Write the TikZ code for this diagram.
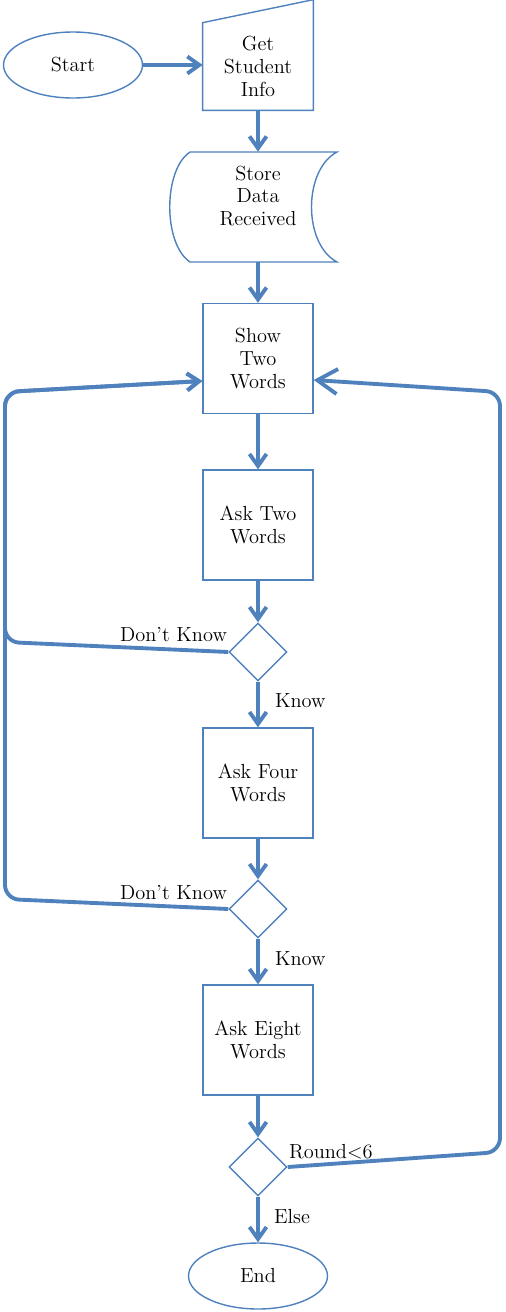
\documentclass[tikz,border=0pt]{standalone}
\usepackage{tikz}
\usetikzlibrary{shapes.geometric,arrows.meta,calc}
\definecolor{flowblue}{RGB}{79,129,189}

\begin{document}
\begin{tikzpicture}[x=0.02cm,y=-0.02cm,
  font=\fontsize{11.6}{13}\selectfont,
  outline/.style={draw=flowblue,line width=0.8pt},
  terminal/.style={outline,ellipse,minimum width=2.78cm,minimum height=1.32cm},
  process/.style={outline,rectangle,minimum width=2.2cm,minimum height=2.2cm,align=center},
  decision/.style={outline,diamond,minimum width=1.16cm,minimum height=1.16cm,inner sep=0pt},
  flow/.style={draw=flowblue,line width=2.2pt,-{Straight Barb[length=2.4mm,width=3.4mm]}},
  backflow/.style={flow,rounded corners=8pt},
  lab/.style={inner sep=1pt}]
\useasboundingbox (0,0) rectangle (506,1312);

\node[terminal] (start) at (73,65) {Start};
\node[align=center,minimum width=2.2cm,minimum height=1.74cm] (info) at (258,66.5) {Get\\Student\\Info};
\draw[outline] (info.south west) -- (info.north west) -- ($(info.north east)+(0,-23)$) -- (info.south east) -- cycle;

\node[minimum width=2.9cm,minimum height=2.2cm,
  label={[align=center,yshift=0.22cm]center:Store\\Data\\Received}] (store) at (258,207) {};
\draw[outline] (190,152) -- (337,152) .. controls (303,170) and (303,244) .. (337,262)
  -- (190,262) .. controls (163,244) and (163,170) .. (190,152) -- cycle;

\node[process] (show) at (258,358.5) {Show\\Two\\Words};
\node[process] (asktwo) at (258,525) {Ask Two\\Words};
\node[decision] (dtwo) at (258,652) {};
\node[process] (askfour) at (258,783) {Ask Four\\Words};
\node[decision] (dfour) at (258,909) {};
\node[process] (askeight) at (258,1040) {Ask Eight\\Words};
\node[decision] (deight) at (258,1167) {};
\node[terminal] (end) at (258,1276) {End};

\node[lab,anchor=east] (dkone) at (229,635) {Don't Know};
\node[lab,anchor=west] (kone) at (273,701) {Know};
\node[lab,anchor=east] (dktwo) at (229,893) {Don't Know};
\node[lab,anchor=west] (ktwo) at (273,959) {Know};
\node[lab,anchor=west] (round) at (287,1152) {Round\textless6};
\node[lab,anchor=west] (else) at (272,1217) {Else};

\draw[flow] (start.east) -- (start.east -| info.west);
\draw[flow] (info) -- (store);
\draw[flow] (store) -- (show);
\draw[flow] (show) -- (asktwo);
\draw[flow] (asktwo) -- (dtwo);
\draw[flow] (dtwo) -- (askfour);
\draw[flow] (askfour) -- (dfour);
\draw[flow] (dfour) -- (askeight);
\draw[flow] (askeight) -- (deight);
\draw[flow] (deight) -- (end);

\draw[backflow] (dtwo.west) -- (5,642) -- (5,392) -- (show.west |- 0,381);
\draw[backflow] (dfour.west) -- (5,899) -- (5,392) -- (show.west |- 0,381);
\draw[backflow,-{Straight Barb[length=4mm,width=5mm]}] (deight.east) -- (500,1152) -- (500,392) -- (show.east |- 0,380);
\end{tikzpicture}
\end{document}
